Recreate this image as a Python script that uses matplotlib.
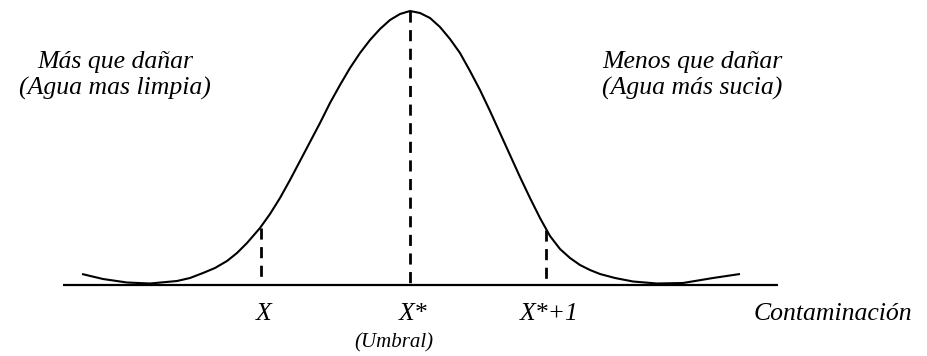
import matplotlib
matplotlib.use("Agg")
import matplotlib.pyplot as plt

# curve: x position and height above the axis line
curve_x = [82, 103, 127, 150, 177, 190, 203, 215, 227, 237, 247, 260, 270,
           280, 290, 300, 310, 320, 330, 340, 350, 360, 370, 380, 390, 400,
           410, 420, 430, 440, 450, 460, 470, 480, 490, 500, 510, 520, 530,
           540, 550, 560, 570, 580, 590, 600, 615, 633, 657, 683, 713, 740]
curve_y = [11, 6, 2.5, 1.5, 4, 7, 12, 17, 24, 32, 42, 57, 71,
           87, 105, 124, 143, 162, 182, 200, 217, 232, 245, 256, 265, 271,
           274, 272, 267, 258, 246, 232, 214, 195, 174, 152, 130, 108, 87,
           67, 49, 36, 27, 20, 15, 11, 7, 3.5, 1.5, 2, 7, 11]

# dashed markers: x position and height where they meet the curve
mark_x = [261, 410, 546]
mark_h = [57, 274, 55]
mark_labels = ["X", "X*", "X*+1"]

axis_start, axis_end = 63, 778

plt.rcParams['font.family'] = ['Liberation Serif', 'DejaVu Serif']

fig = plt.figure(figsize=(9.28, 3.56), dpi=100)
ax = fig.add_axes([0, 0, 1, 1])
ax.set_xlim(0, 928)
ax.set_ylim(285 - 356, 285)
ax.axis('off')

# horizontal axis line
ax.plot([axis_start, axis_end], [0, 0], color='black', linewidth=1.6,
        solid_capstyle='butt')

# the bell-shaped curve
ax.plot(curve_x, curve_y, color='black', linewidth=1.5,
        solid_joinstyle='round', solid_capstyle='butt')

# dashed verticals, drawn from the curve down so the pattern starts on top
for mx, mh in zip(mark_x, mark_h):
    ax.plot([mx, mx], [mh, 0], color='black', linewidth=2.0,
            linestyle=(0, (4, 2.7)), dash_capstyle='butt')

fs = 18.5
for mx, lab in zip(mark_x, mark_labels):
    ax.text(mx + 3, -35, lab, ha='center', va='baseline', fontsize=fs,
            style='italic')
ax.text(394, -62, "(Umbral)", ha='center', va='baseline', fontsize=15,
        style='italic')
ax.text(833, -35, "Contaminación", ha='center', va='baseline', fontsize=fs,
        style='italic')

ax.text(115, 217, "Más que dañar", ha='center', va='baseline', fontsize=fs,
        style='italic')
ax.text(115, 190, "(Agua mas limpia)", ha='center', va='baseline',
        fontsize=fs, style='italic')
ax.text(692, 217, "Menos que dañar", ha='center', va='baseline', fontsize=fs,
        style='italic')
ax.text(692, 190, "(Agua más sucia)", ha='center', va='baseline',
        fontsize=fs, style='italic')

fig.savefig("out.png", dpi=100)
